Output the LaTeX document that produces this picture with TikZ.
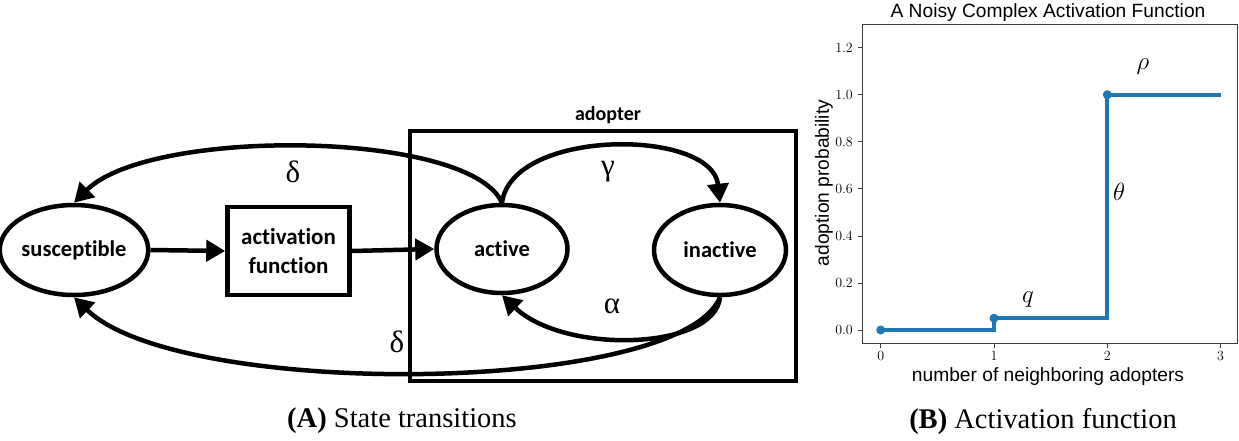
\documentclass[tikz,border=0pt]{standalone}
\usepackage{fontspec}
\usetikzlibrary{arrows.meta,shapes.geometric}
\newfontfamily\calfont{Carlito}[Ligatures=NoCommon]
\newfontfamily\serfont{Liberation Serif}
\newfontfamily\arfont{Liberation Sans}
\definecolor{mplblue}{RGB}{31,119,180}
\definecolor{spine}{RGB}{60,60,60}
\tikzset{
  statenode/.style={ellipse, draw, line width=4.5pt, inner sep=0pt,
    font=\calfont\bfseries\fontsize{22.5}{26}\selectfont},
  boxnode/.style={rectangle, draw, line width=4.5pt, inner sep=0pt, align=center,
    font=\calfont\bfseries\fontsize{23}{29}\selectfont},
  flow/.style={line width=4.5pt, -{Triangle[length=19pt,width=21pt]}},
  greek/.style={font=\serfont\fontsize{31}{32}\selectfont, inner sep=0pt},
  caption/.style={font=\serfont\fontsize{28.5}{30}\selectfont, inner sep=0pt},
  ticklab/.style={font=\fontsize{14}{16}\selectfont, inner sep=0pt},
  axlab/.style={font=\arfont\fontsize{19.2}{22}\selectfont, inner sep=0pt},
  mathlab/.style={font=\fontsize{27}{28}\selectfont, inner sep=0pt},
  curve/.style={mplblue, line width=4pt, line join=miter},
}
\begin{document}
\begin{tikzpicture}[x=1pt,y=-1pt]
\useasboundingbox (0,0) rectangle (1239,440);
\fill[white] (0,0) rectangle (1239,440);

% ---------- Panel A ----------
\node[draw, line width=4.5pt, minimum width=386pt, minimum height=250pt, inner sep=0pt] (adopter) at (603,256) {};
\node[font=\calfont\bfseries\fontsize{20}{22}\selectfont, inner sep=0pt] (adlab) at (608,115) {adopter};

\node[statenode, minimum width=134pt, minimum height=90pt] (sus) at (74,250) {susceptible};
\node[boxnode, minimum width=122pt, minimum height=88pt] (act) at (288.5,251) {activation\\function};
\node[statenode, minimum width=131pt, minimum height=88pt] (active) at (502,249) {active};
\node[statenode, minimum width=132pt, minimum height=90pt] (inactive) at (720,250) {inactive};

\draw[flow] (sus.east) -- (act.west);
\draw[flow] (act.east) -- (active.west);
% gamma
\draw[flow] (active.north) .. controls (512,128) and (712,128) .. (inactive.north);
% alpha
\draw[flow] (inactive.south) .. controls (715,350) and (565,355) .. (active.south);
% delta top
\draw[flow] (active.north) .. controls (470,130) and (150,127) .. (sus.north);
% delta bottom
\draw[flow] (inactive.south) .. controls (680,395) and (180,400) .. (sus.south);

\node[greek] (gl) at (608,172) {γ};
\node[greek] (al) at (612,306) {α};
\node[greek] (d1) at (293,172) {δ};
\node[greek] (d2) at (397,342) {δ};

\node[caption] (capA) at (402,421) {\textbf{(A)} State transitions};

% ---------- Panel B ----------
\node[axlab] (title) at (1048,13) {A Noisy Complex Activation Function};
\draw[spine, line width=0.9pt] (862,24) rectangle (1237,343);
\foreach \v/\y in {0.0/330,0.2/282.9,0.4/235.9,0.6/188.8,0.8/141.8,1.0/94.7,1.2/47.6}{
  \draw[spine, line width=0.8pt] (857.5,\y) -- (862,\y);
  \node[ticklab, anchor=east] at (853,\y) {\v};
}
\foreach \v/\x in {0/880.7,1/994,2/1107.3,3/1220.6}{
  \draw[spine, line width=0.8pt] (\x,343) -- (\x,347.5);
  \node[ticklab, anchor=north] at (\x,351) {\v};
}
\node[axlab, rotate=90] (ylab) at (824,183) {adoption probability};
\node[axlab] (xlab) at (1048,377) {number of neighboring adopters};

\draw[curve] (880.7,330) -- (994,330) -- (994,318.2) -- (1107.3,318.2) -- (1107.3,94.7) -- (1220.6,94.7);
\fill[mplblue] (880.7,330) circle (4.5pt) (994,318.2) circle (4.5pt) (1107.3,94.7) circle (4.5pt);

\node[mathlab] (ql) at (1028,300) {$q$};
\node[mathlab] (tl) at (1119,192) {$\theta$};
\node[mathlab] (rl) at (1143,67) {$\rho$};

\node[caption] (capB) at (1043,421) {\textbf{(B)} Activation function};
\end{tikzpicture}
\end{document}
